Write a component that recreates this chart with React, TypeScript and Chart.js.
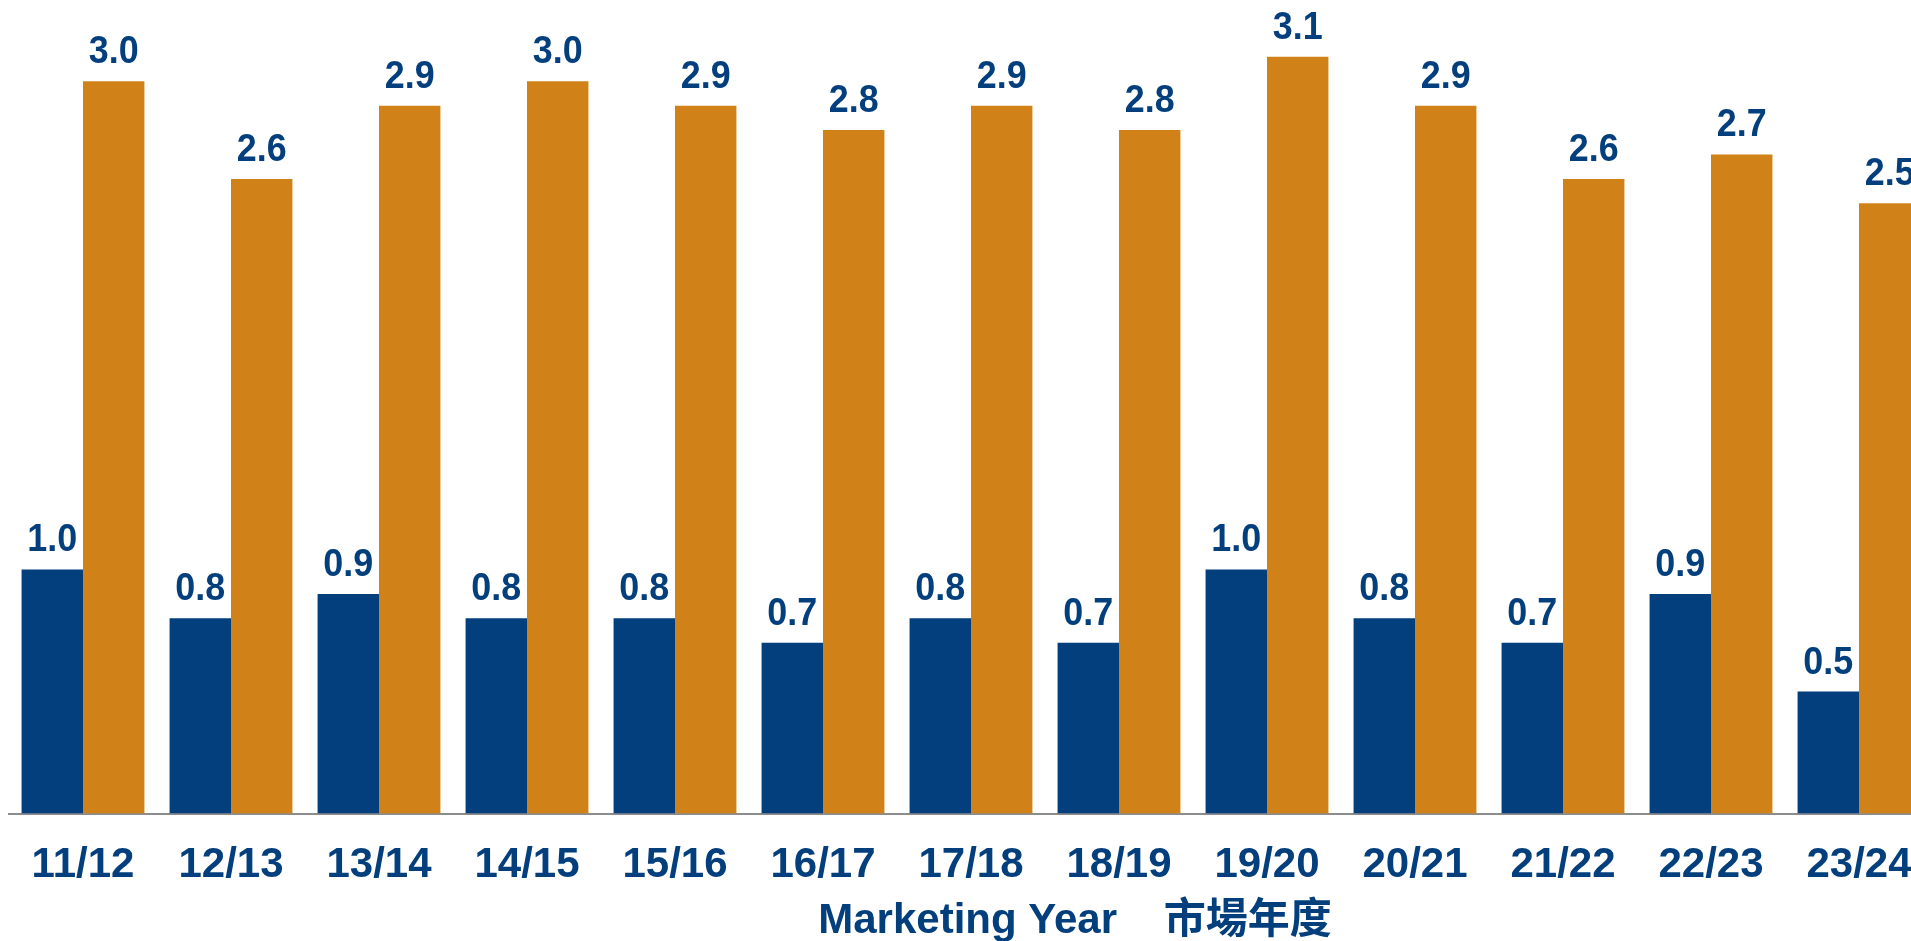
import React, { useEffect, useRef } from "react";
import { Chart, registerables } from "chart.js";

Chart.register(...registerables);

const categories = ["11/12", "12/13", "13/14", "14/15", "15/16", "16/17", "17/18", "18/19", "19/20", "20/21", "21/22", "22/23", "23/24"];
const blueValues = [1.0, 0.8, 0.9, 0.8, 0.8, 0.7, 0.8, 0.7, 1.0, 0.8, 0.7, 0.9, 0.5];
const orangeValues = [3.0, 2.6, 2.9, 3.0, 2.9, 2.8, 2.9, 2.8, 3.1, 2.9, 2.6, 2.7, 2.5];
const axisTitle = "Marketing Year    市場年度";

const BLUE = "#023F7C";
const ORANGE = "#D08218";
const FONT = "'Liberation Sans', Arial, 'Noto Sans CJK TC', sans-serif";

const valueLabels = {
  id: "valueLabels",
  afterDatasetsDraw(chart: any) {
    const ctx = chart.ctx;
    ctx.save();
    ctx.fillStyle = BLUE;
    ctx.font = `bold 39px ${FONT}`;
    ctx.textAlign = "center";
    ctx.textBaseline = "alphabetic";
    chart.data.datasets.forEach((ds: any, di: number) => {
      const meta = chart.getDatasetMeta(di);
      meta.data.forEach((bar: any, i: number) => {
        const v = ds.data[i];
        ctx.save();
        ctx.translate(bar.x, bar.y - 18);
        ctx.scale(0.92, 1);
        ctx.fillText(v.toFixed(1), 0, 0);
        ctx.restore();
      });
    });
    ctx.restore();
  },
};

const axisTitlePlugin = {
  id: "axisTitlePlugin",
  afterDraw(chart: any) {
    const ctx = chart.ctx;
    const area = chart.chartArea;
    ctx.save();
    ctx.fillStyle = BLUE;
    ctx.font = `bold 42px ${FONT}`;
    ctx.textAlign = "center";
    ctx.textBaseline = "alphabetic";
    ctx.fillText(axisTitle, (area.left + area.right) / 2 + 104, area.bottom + 119);
    ctx.restore();
  },
};

export default function App() {
  const ref = useRef<HTMLCanvasElement | null>(null);
  useEffect(() => {
    document.documentElement.style.overflow = "hidden";
    if (!ref.current) return;
    const chart = new Chart(ref.current, {
      type: "bar",
      data: {
        labels: categories,
        datasets: [
          { data: blueValues, backgroundColor: BLUE, barPercentage: 1, categoryPercentage: 0.83 },
          { data: orangeValues, backgroundColor: ORANGE, barPercentage: 1, categoryPercentage: 0.83 },
        ],
      },
      options: {
        animation: false,
        responsive: false,
        maintainAspectRatio: false,
        layout: { padding: { left: 1, right: 3, top: 0, bottom: 50 } },
        plugins: { legend: { display: false }, tooltip: { enabled: false } },
        scales: {
          x: {
            grid: { display: false, drawTicks: true, tickLength: 27 },
            border: { display: true, color: "#8C8C8C", width: 2 },
            ticks: { color: BLUE, font: { family: FONT, size: 42, weight: "bold" }, padding: 0, maxRotation: 0, autoSkip: false },
          },
          y: { display: false, min: 0, max: 3.3 },
        },
      },
      plugins: [valueLabels, axisTitlePlugin],
    });
    return () => chart.destroy();
  }, []);
  return (
    <div style={{ position: "fixed", left: 8, top: 8, width: 1903, height: 933, overflow: "hidden" }}>
      <canvas ref={ref} width={1928} height={933} style={{ width: 1928, height: 933, display: "block" }} />
    </div>
  );
}
